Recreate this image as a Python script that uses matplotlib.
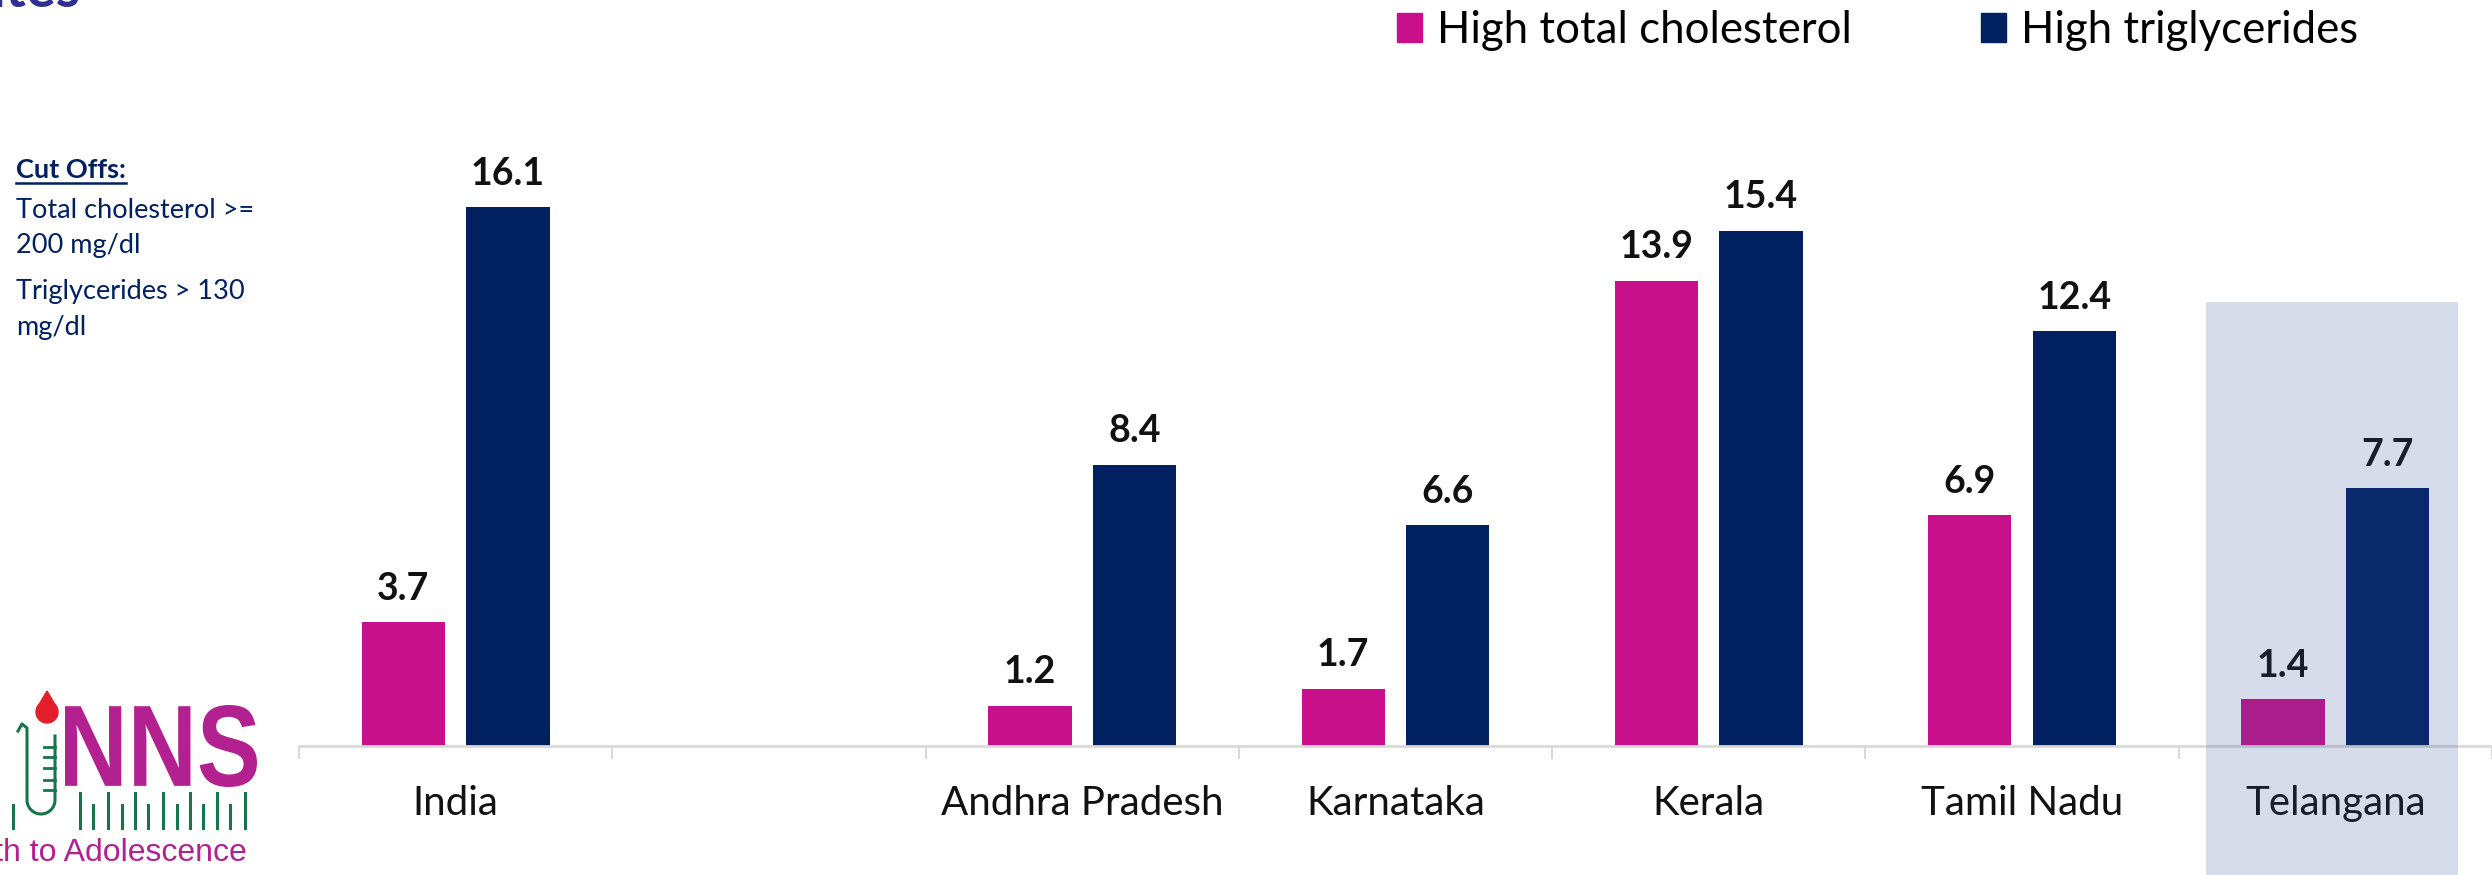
import numpy as np
import matplotlib.pyplot as plt
from matplotlib.patches import Rectangle, Patch, PathPatch, Polygon, Circle
from matplotlib.lines import Line2D
from matplotlib.textpath import TextPath
from matplotlib.font_manager import FontProperties
from matplotlib import transforms

states = ['India', '', 'Andhra Pradesh', 'Karnataka', 'Kerala', 'Tamil Nadu', 'Telangana']
high_chol = [3.7, None, 1.2, 1.7, 13.9, 6.9, 1.4]
high_trig = [16.1, None, 8.4, 6.6, 15.4, 12.4, 7.7]
series_names = ['High total cholesterol', 'High triglycerides']
cutoff_title = 'Cut Offs:'
cutoff_lines = ['Total cholesterol >=', '200 mg/dl', 'Triglycerides > 130', 'mg/dl']
highlight = 'Telangana'

PINK = '#C9108B'
NAVY = '#002060'
TXT = '#111111'
GRID = '#D9D9D9'
LOGO_PURPLE = '#B3208F'
LOGO_GREEN = '#17754A'

plt.rcParams['font.family'] = ['Lato', 'DejaVu Sans']

W, H = 2492, 875
fig = plt.figure(figsize=(W / 100, H / 100), dpi=100)


def fx(px):
    return px / W


def fy(py):
    # py counted from the top edge
    return 1 - py / H


base_px, left_px = 746, 299
px_per_unit, cat_px = 33.45, 315.2
ax = fig.add_axes([fx(left_px), fy(base_px), 1 - fx(left_px), 20 * px_per_unit / H])
ax.set_ylim(0, 20)
ax.set_xlim(-0.5, -0.5 + (W - left_px) / cat_px)

x = np.arange(len(states))
bw, off = 0.266, 0.167
has = [i for i, v in enumerate(high_chol) if v is not None]
xs = x[has]
chol = [high_chol[i] for i in has]
trig = [high_trig[i] for i in has]

b1 = ax.bar(xs - off, chol, bw, color=PINK, zorder=2)
b2 = ax.bar(xs + off, trig, bw, color=NAVY, zorder=2)
for bars, vals in ((b1, chol), (b2, trig)):
    for r, v in zip(bars, vals):
        ax.annotate(f'{v:.1f}', (r.get_x() + r.get_width() / 2, v), xytext=(0, 12),
                    textcoords='offset points', ha='center', va='bottom',
                    fontsize=27, fontweight='bold', color=TXT)

for s in ('top', 'right', 'left'):
    ax.spines[s].set_visible(False)
ax.spines['bottom'].set_color(GRID)
ax.spines['bottom'].set_linewidth(2)
ax.set_yticks([])
ax.set_xticks(x)
ax.set_xticklabels(states, fontsize=29, color=TXT)
ax.set_xticks(np.arange(len(states) + 1) - 0.5, minor=True)
ax.tick_params(axis='x', which='major', length=0, pad=28)
ax.tick_params(axis='x', which='minor', length=9, width=1.5, color=GRID)

# shaded band over the highlighted state
hi = states.index(highlight)
ax.add_patch(Rectangle((hi - 0.412, -4.2), 0.803, 13.27 + 4.2, facecolor='#365195',
                       alpha=0.2, edgecolor='none', clip_on=False, zorder=10))

fig.legend(handles=[Patch(color=PINK), Patch(color=NAVY)], labels=series_names,
           loc='upper left', bbox_to_anchor=(fx(1397), fy(10)), ncol=2, frameon=False,
           fontsize=31.5, handlelength=0.57, handleheight=0.64, handletextpad=0.34,
           columnspacing=2.95, borderaxespad=0, borderpad=0)

# cut-off note
t = fig.text(fx(16), fy(170), cutoff_title, fontsize=19.5, fontweight='bold', color=NAVY, va='center')
for txt, py in zip(cutoff_lines, [211, 246, 292, 327]):
    fig.text(fx(16), fy(py), txt, fontsize=19.5, color=NAVY, va='center')
bb = t.get_window_extent(fig.canvas.get_renderer())
fig.add_artist(Line2D([bb.x0, bb.x1], [bb.y0 - 1, bb.y0 - 1], color=NAVY, lw=1.8,
                      transform=transforms.IdentityTransform()))

# clipped title at the top edge
fig.text(fx(80), fy(7), 'Southern States', fontsize=40, fontweight='bold',
         color='#2E3192', ha='right', va='baseline')

# logo
ident = transforms.IdentityTransform()
tp = TextPath((0, 0), 'NNS', size=100, prop=FontProperties(family='Liberation Sans', weight='bold'))
ext = tp.get_extents()
sx = (257 - 65) / ext.width
sy = (787 - 705) / ext.height
tr = transforms.Affine2D().translate(-ext.x0, -ext.y0).scale(sx, sy).translate(65, H - 787)
fig.add_artist(PathPatch(tr.transform_path(tp), color=LOGO_PURPLE, lw=0, transform=ident))

rx = [13, 80, 93, 108, 122, 135, 148, 163, 177, 190, 203, 217, 230, 245]
for i, px in enumerate(rx):
    top = 805 if i % 2 == 0 else 793
    fig.add_artist(Line2D([px, px], [H - top, H - 828], color=LOGO_GREEN, lw=2.2,
                          transform=ident))
ang = np.linspace(np.pi, 2 * np.pi, 30)
tube_x = np.r_[18, 22, 27, 27 + 14 + 14 * np.cos(ang), 55]
tube_y = np.r_[731, 724, 728, 800 - 14 * np.sin(ang), 736]
fig.add_artist(Line2D(tube_x, H - tube_y, color=LOGO_GREEN, lw=2.2, transform=ident))
for py in [747, 757, 768, 780, 790]:
    fig.add_artist(Line2D([44, 55], [H - py, H - py], color=LOGO_GREEN, lw=2, transform=ident))
fig.add_artist(Circle((47, H - 712), 11, color='#E31E2D', transform=ident))
fig.add_artist(Polygon([(37, H - 708), (57, H - 708), (47, H - 691)], color='#E31E2D',
                       transform=ident))
fig.text(fx(247), fy(853), 'Birth to Adolescence', family=['Liberation Sans', 'DejaVu Sans'],
         fontsize=23, color=LOGO_PURPLE, ha='right', va='center')

fig.savefig('out.png', dpi=100)
